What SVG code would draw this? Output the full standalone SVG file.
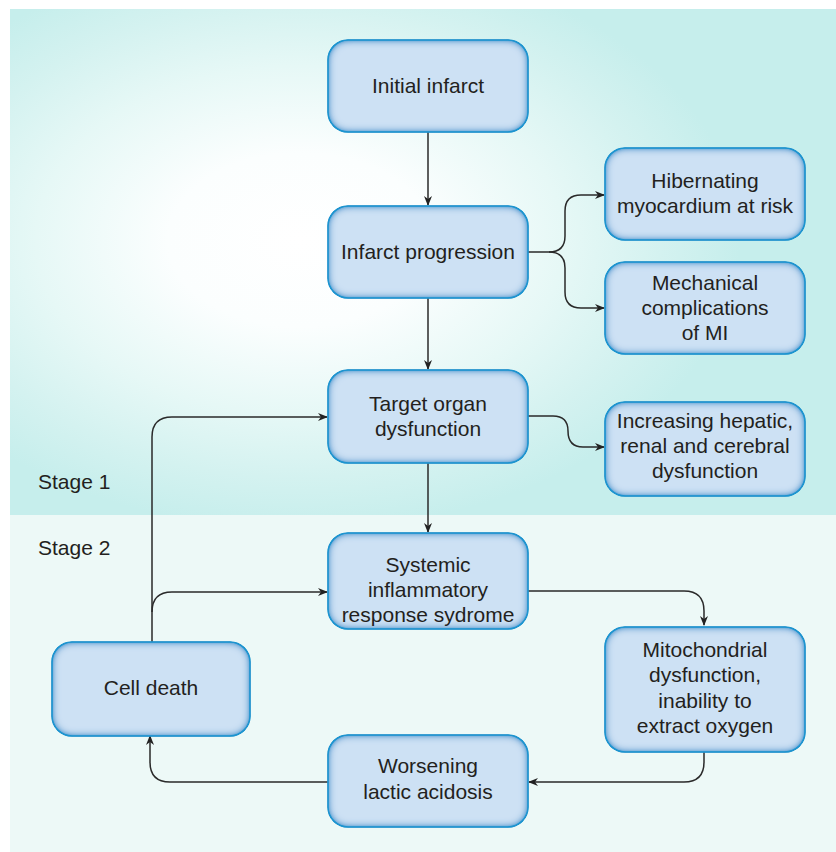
<svg xmlns="http://www.w3.org/2000/svg" width="836" height="852" viewBox="0 0 836 852">
<defs>
<radialGradient id="bg1" gradientUnits="userSpaceOnUse" cx="0" cy="0" r="1" gradientTransform="translate(300,240) scale(440,290)">
<stop offset="0" stop-color="#ffffff"/>
<stop offset="0.3" stop-color="#fbfefe"/>
<stop offset="0.6" stop-color="#e6f8f6"/>
<stop offset="0.82" stop-color="#d4f2f0"/>
<stop offset="1" stop-color="#c6eeec"/>
</radialGradient>
<filter id="glow" x="-10%" y="-10%" width="120%" height="120%">
<feGaussianBlur in="SourceAlpha" stdDeviation="4.5" result="blur"/>
<feComposite in="SourceAlpha" in2="blur" operator="arithmetic" k2="2" k3="-2" result="edge"/>
<feFlood flood-color="#1f95d0"/>
<feComposite in2="edge" operator="in" result="glowc"/>
<feMerge><feMergeNode in="SourceGraphic"/><feMergeNode in="glowc"/></feMerge>
</filter>
<marker id="arr" markerUnits="userSpaceOnUse" markerWidth="10" markerHeight="10" refX="9" refY="5" orient="auto">
<path d="M0,1 L10,5 L0,9 L3,5 z" fill="#222"/>
</marker>
</defs>
<style>
.box{fill:#cde1f4;stroke:#1a8dca;stroke-width:1.5;filter:url(#glow)}
.t{font-family:"Liberation Sans",Arial,sans-serif;font-size:21px;fill:#231f20;text-anchor:middle}
.s{font-family:"Liberation Sans",Arial,sans-serif;font-size:21px;fill:#231f20}
.c{fill:none;stroke:#2a2a2a;stroke-width:1.5;marker-end:url(#arr)}
</style>
<rect x="0" y="0" width="836" height="852" fill="#ffffff"/>
<rect x="10" y="9" width="826" height="506" fill="url(#bg1)"/>
<rect x="10" y="515" width="826" height="337" fill="#edf9f7"/>
<text class="s" x="38" y="489">Stage 1</text>
<text class="s" x="38" y="555">Stage 2</text>
<g id="connectors">
<path class="c" d="M428,132 V205"/>
<path class="c" d="M428,298 V369"/>
<path class="c" d="M428,463 V532"/>
<path class="c" d="M528,252 H549 Q565,252 565,236 V211 Q565,195 581,195 H604"/>
<path class="c" d="M549,252 Q565,252 565,268 V292 Q565,308 581,308 H604"/>
<path class="c" d="M528,416 H553 Q568,416 568,431 Q568,447 583,447 H604"/>
<path class="c" d="M152,642 V437 Q152,417 172,417 H327"/>
<path class="c" d="M152,612 Q152,592 172,592 H327"/>
<path class="c" d="M528,591 H684 Q704,591 704,611 V625"/>
<path class="c" d="M704,752 V762 Q704,782 684,782 H529"/>
<path class="c" d="M328,782 H170 Q150,782 150,762 V736"/>
</g>
<g id="initial-infarct">
<rect class="box" x="328" y="40" width="200" height="92" rx="20"/>
<text class="t" x="428" y="93">Initial infarct</text>
</g>
<g id="infarct-progression">
<rect class="box" x="328" y="206" width="200" height="92" rx="20"/>
<text class="t" x="428" y="259">Infarct progression</text>
</g>
<g id="target-organ">
<rect class="box" x="328" y="370" width="200" height="93" rx="20"/>
<text class="t" x="428" y="411">Target organ</text>
<text class="t" x="428" y="436">dysfunction</text>
</g>
<g id="hibernating">
<rect class="box" x="605" y="148" width="200" height="92" rx="20"/>
<text class="t" x="705" y="188">Hibernating</text>
<text class="t" x="705" y="213">myocardium at risk</text>
</g>
<g id="mechanical">
<rect class="box" x="605" y="262" width="200" height="92" rx="20"/>
<text class="t" x="705" y="290">Mechanical</text>
<text class="t" x="705" y="315">complications</text>
<text class="t" x="705" y="340">of MI</text>
</g>
<g id="increasing">
<rect class="box" x="605" y="402" width="200" height="94" rx="20"/>
<text class="t" x="705" y="428">Increasing hepatic,</text>
<text class="t" x="705" y="453">renal and cerebral</text>
<text class="t" x="705" y="478">dysfunction</text>
</g>
<g id="systemic">
<rect class="box" x="328" y="533" width="200" height="96" rx="20"/>
<text class="t" x="428" y="572">Systemic</text>
<text class="t" x="428" y="597">inflammatory</text>
<text class="t" x="428" y="622">response sydrome</text>
</g>
<g id="mitochondrial">
<rect class="box" x="605" y="627" width="200" height="125" rx="20"/>
<text class="t" x="705" y="657">Mitochondrial</text>
<text class="t" x="705" y="682">dysfunction,</text>
<text class="t" x="705" y="708">inability to</text>
<text class="t" x="705" y="733">extract oxygen</text>
</g>
<g id="cell-death">
<rect class="box" x="52" y="642" width="198" height="94" rx="20"/>
<text class="t" x="151" y="695">Cell death</text>
</g>
<g id="worsening">
<rect class="box" x="328" y="735" width="200" height="92" rx="20"/>
<text class="t" x="428" y="773">Worsening</text>
<text class="t" x="428" y="799">lactic acidosis</text>
</g>
</svg>
